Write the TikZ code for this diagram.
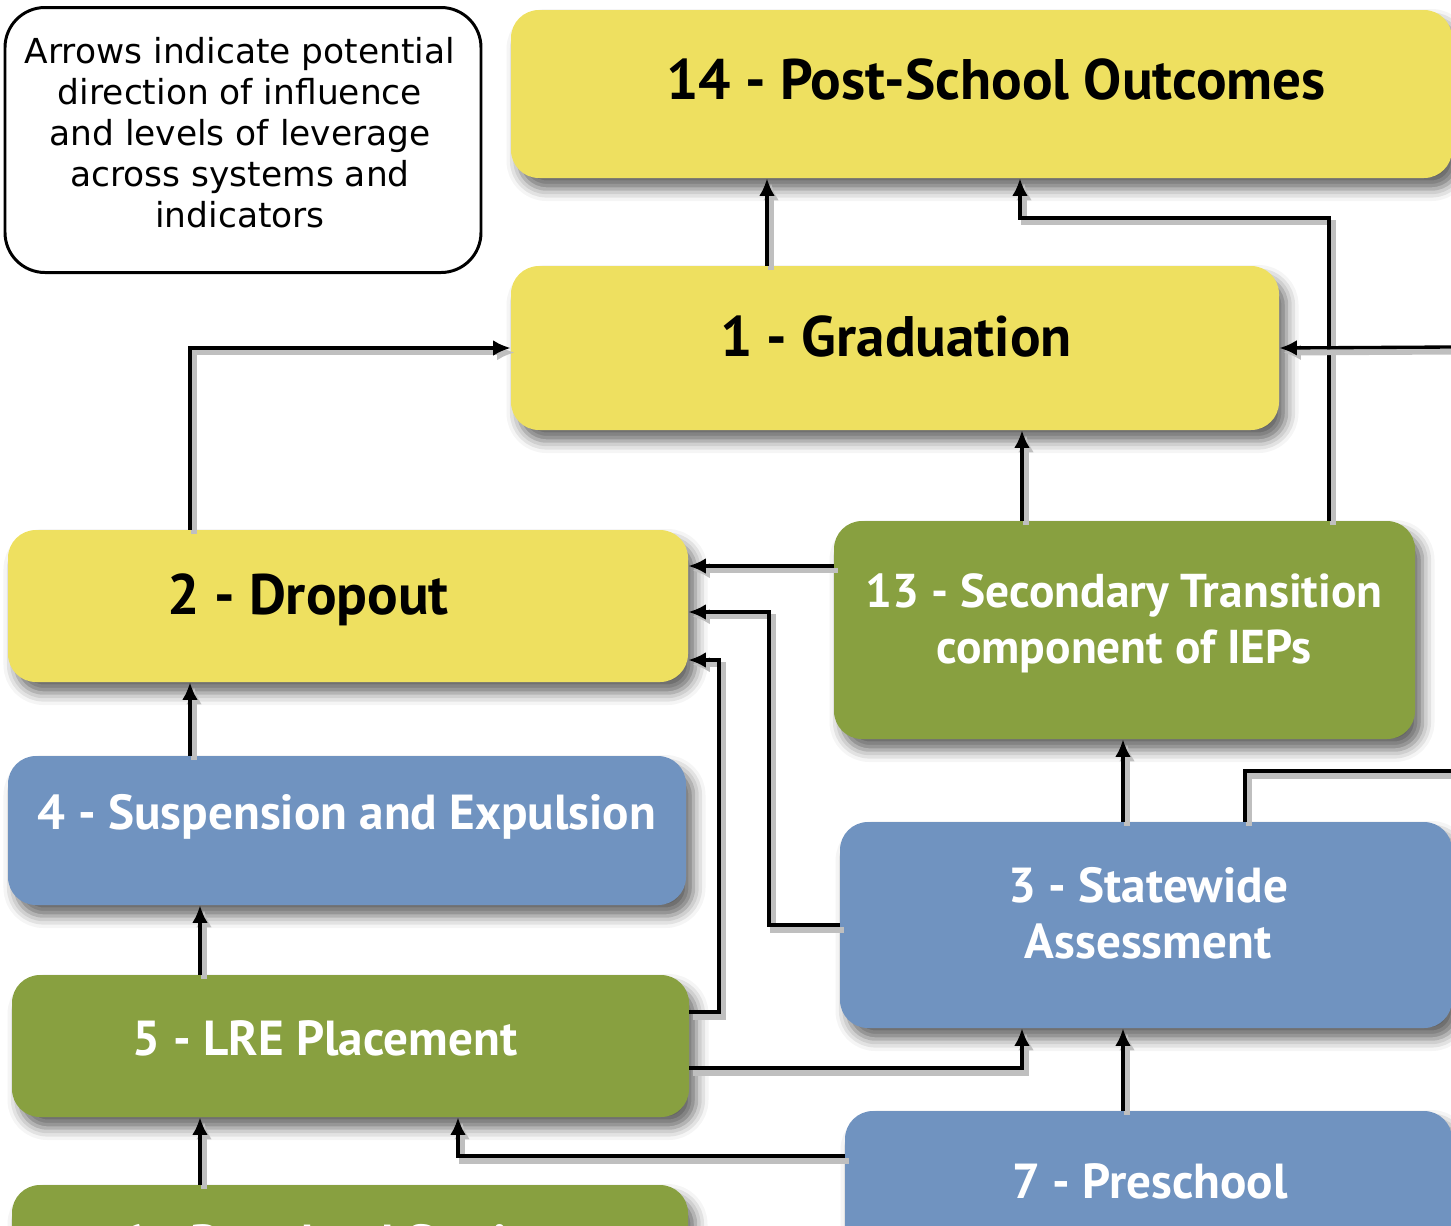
\documentclass[tikz,border=0pt]{standalone}
\usepackage{fontspec}
\usetikzlibrary{calc,shadows.blur,arrows.meta}
\newfontfamily\boxfont{PT Sans}
\newfontfamily\notefont{DejaVu Sans}
\definecolor{outyellow}{RGB}{238,224,96}
\definecolor{sysgreen}{RGB}{136,160,64}
\definecolor{sysblue}{RGB}{112,147,192}

\begin{document}
\begin{tikzpicture}[x=0.02cm,y=-0.02cm,
box/.style={rounded corners=0.56cm,inner sep=0,draw=none,
  blur shadow={shadow xshift=0.15cm,shadow yshift=-0.22cm,shadow blur radius=0.24cm,shadow opacity=60}},
outbox/.style={box,fill=outyellow},
greenbox/.style={box,fill=sysgreen},
bluebox/.style={box,fill=sysblue},
bigtitle/.style={font=\boxfont\bfseries\fontsize{32.5}{36}\selectfont},
subtitle/.style={font=\boxfont\bfseries\fontsize{28}{32}\selectfont,text=white,align=center},
note/.style={draw,line width=1.7pt,rounded corners=0.8cm,inner sep=0},
notetext/.style={font=\notefont\fontsize{19.6}{23.3}\selectfont,align=center},
link/.style={-{Latex[length=10pt,width=9pt]},line width=1.9pt,
  preaction={draw=black!25,line width=3.4pt,transform canvas={shift={(0.08cm,-0.09cm)}}}},
line/.style={line width=1.9pt,
  preaction={draw=black!25,line width=3.4pt,transform canvas={shift={(0.08cm,-0.09cm)}}}}]
	\def\pxl{0.02cm}
	\useasboundingbox (0,0) rectangle (1451,1225);
	\clip (0,0) rectangle (1451,1225);

	% legend
	\node[note,minimum width=476*\pxl,minimum height=265*\pxl] at (243,140) (legend) {};
	\node[notetext] at (240,133) (legendtxt)
		{Arrows indicate potential\\direction of influence\\and levels of leverage\\across systems and\\indicators};

	% indicator boxes
	\node[outbox,minimum width=941*\pxl,minimum height=168*\pxl] at (981.5,94) (b14) {};
	\node[outbox,minimum width=768*\pxl,minimum height=164*\pxl] at (895,348) (b1) {};
	\node[outbox,minimum width=680*\pxl,minimum height=152*\pxl] at (348,606) (b2) {};
	\node[greenbox,minimum width=581*\pxl,minimum height=218*\pxl] at (1124.5,630) (b13) {};
	\node[bluebox,minimum width=678*\pxl,minimum height=149*\pxl] at (347,830.5) (b4) {};
	\node[bluebox,minimum width=612*\pxl,minimum height=206*\pxl] at (1146,925) (b3) {};
	\node[greenbox,minimum width=677*\pxl,minimum height=142*\pxl] at (350.5,1046) (b5) {};
	\node[bluebox,minimum width=607*\pxl,minimum height=190*\pxl] at (1148.5,1206) (b7) {};
	\node[greenbox,minimum width=676*\pxl,minimum height=150*\pxl] at (350,1260) (b6) {};

	\node[bigtitle] at (996,80) (t14) {14 - Post-School Outcomes};
	\node[bigtitle] at (896,337) (t1) {1 - Graduation};
	\node[bigtitle] at (308,600) (t2) {2 - Dropout};
	\node[subtitle,font=\boxfont\bfseries\fontsize{27}{32}\selectfont] at (1124,623) (t13) {13 - Secondary Transition\\component of IEPs};
	\node[subtitle] at (347,817) (t4) {4 - Suspension and Expulsion};
	\node[subtitle] at (1148,913) (t3) {3 - Statewide\\Assessment};
	\node[subtitle] at (325,1038) (t5) {5 - LRE Placement};
	\node[subtitle] at (1150,1181) (t7) {7 - Preschool};
	\node[subtitle] at (350,1247) (t6) {6 - Preschool Settings};

	% loose ends at the right edge
	\coordinate (rin) at (1452,347);
	\coordinate (rout) at (1452,771);

	%into post-school outcomes
	\draw[link] (b1.north -| 767,0) -- (b14.south -| 767,0);
	\draw[link] (b13.north -| 1329,0) -- (1329,218) -| (b14.south -| 1020,0);
	%into graduation
	\draw[link] (rin) -- (b1.east);
	\draw[link] (b2.north -| 190,0) |- (b1.west);
	\draw[link] (b13.north -| 1022,0) -- (b1.south -| 1022,0);
	%into dropout
	\draw[link] (b13.west |- 0,566) -- (b2.east |- 0,566);
	\draw[link] (b3.west) -| (769,612) -- (b2.east |- 0,612);
	\draw[link] (b5.east |- 0,1012) -| (719,660) -- (b2.east |- 0,660);
	\draw[link] (b4.north -| 190,0) -- (b2.south -| 190,0);
	%lower levels
	\draw[link] (b5.north -| 200,0) -- (b4.south -| 200,0);
	\draw[link] (b5.east |- 0,1068) -| (b3.south -| 1022,0);
	\draw[link] (b3.north -| 1123,0) -- (b13.south -| 1123,0);
	\draw[line] (b3.north -| 1245,0) |- (rout);
	\draw[link] (b7.north -| 1123,0) -- (b3.south -| 1123,0);
	\draw[link] (b7.west |- 0,1156) -| (b5.south -| 458,0);
	\draw[link] (b6.north -| 200,0) -- (b5.south -| 200,0);
\end{tikzpicture}
\end{document}
